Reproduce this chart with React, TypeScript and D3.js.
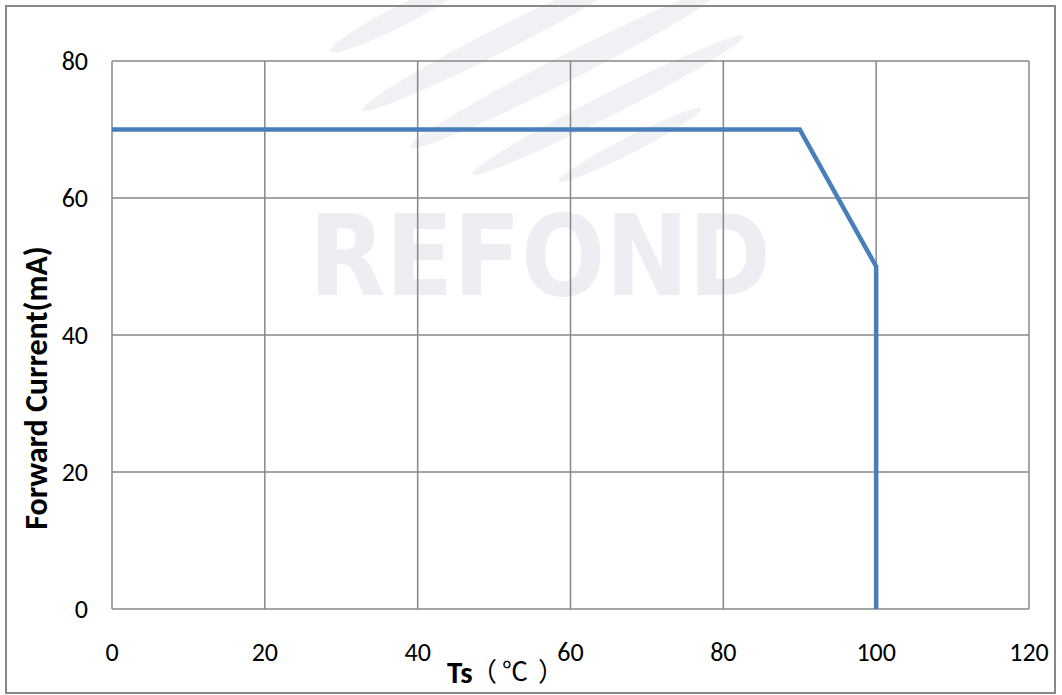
import React from "react";
import * as d3 from "d3";

const xTicks = [0, 20, 40, 60, 80, 100, 120];
const yTicks = [0, 20, 40, 60, 80];
const tempC = [0, 90, 100, 100];
const currentMA = [70, 70, 50, 0];

export default function App() {
  const W = 1062, H = 695;
  const x = d3.scaleLinear().domain([0, 120]).range([112, 1029]);
  const y = d3.scaleLinear().domain([0, 80]).range([609, 61]);
  const pts = tempC.map((t, i) => [t, currentMA[i]] as [number, number]);
  const line = d3.line<[number, number]>().x(d => x(d[0])).y(d => y(d[1]));
  const font = "Calibri, Carlito, 'Open Sans', 'Noto Sans', sans-serif";
  const cjk = "'Noto Sans CJK SC', 'Noto Sans CJK JP', sans-serif";
  const wm = "#eceef3";
  return (
    <svg width={W} height={H} style={{ position: "absolute", left: 0, top: 0 }}>
      <rect x={0} y={0} width={W} height={H} fill="#fff" />
      {/* watermark */}
      <g fill="#eff1f4">
        <ellipse cx={400} cy={16} rx={78} ry={10} transform="rotate(-27 400 16)" />
        <ellipse cx={500} cy={40} rx={155} ry={12} transform="rotate(-27 500 40)" />
        <ellipse cx={566} cy={68} rx={175} ry={13} transform="rotate(-27 566 68)" />
        <ellipse cx={608} cy={105} rx={152} ry={11} transform="rotate(-27 608 105)" />
        <ellipse cx={630} cy={145} rx={80} ry={8} transform="rotate(-27 630 145)" />
      </g>
      <text x={309} y={295} fill={wm} fontFamily="'DejaVu Sans Condensed', 'DejaVu Sans', sans-serif" fontWeight="bold" fontSize={112} textLength={462} lengthAdjust="spacingAndGlyphs">REFOND</text>
      {/* outer border */}
      <rect x={6} y={6} width={1049} height={687} fill="none" stroke="#888" strokeWidth={2} />
      {/* grid */}
      {xTicks.map(t => (
        <line key={"gx" + t} x1={x(t)} x2={x(t)} y1={y(80)} y2={y(0)} stroke="#878787" strokeWidth={1.5} />
      ))}
      {yTicks.map(t => (
        <line key={"gy" + t} x1={x(0)} x2={x(120)} y1={y(t)} y2={y(t)} stroke="#878787" strokeWidth={1.5} />
      ))}
      {/* data line */}
      <path d={line(pts) || ""} fill="none" stroke="#4a7ebb" strokeWidth={4.5} strokeLinejoin="miter" />
      {/* tick labels */}
      {yTicks.map(t => (
        <text key={"ly" + t} x={88} y={y(t)} dy="0.35em" textAnchor="end" fontFamily={font} fontSize={26} fill="#000">{t}</text>
      ))}
      {xTicks.map(t => (
        <text key={"lx" + t} x={x(t)} y={661} textAnchor="middle" fontFamily={font} fontSize={26} fill="#000">{t}</text>
      ))}
      {/* axis titles */}
      <text x={447} y={683} fontFamily={font} fontSize={31} fontWeight="bold" fill="#000">Ts</text>
      <text y={681} fontFamily={cjk} fontSize={26} fill="#000">
        <tspan x={471}>（</tspan>
        <tspan x={502}>℃</tspan>
        <tspan x={538}>）</tspan>
      </text>
      <text transform="translate(47 388) rotate(-90)" textAnchor="middle" fontFamily={font} fontSize={32} fontWeight="bold" fill="#000">Forward Current(mA)</text>
    </svg>
  );
}
